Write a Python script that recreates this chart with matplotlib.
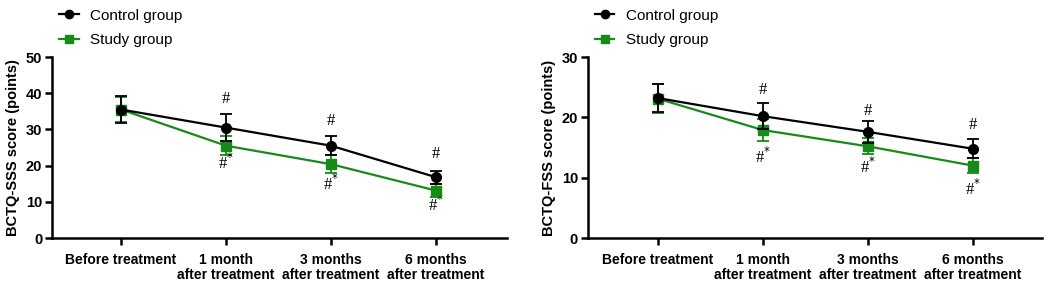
import matplotlib
matplotlib.use("Agg")
import matplotlib.pyplot as plt
from matplotlib.lines import Line2D
import numpy as np

categories = ["Before treatment", "1 month\nafter treatment", "3 months\nafter treatment", "6 months\nafter treatment"]

sss_control = [35.5, 30.5, 25.5, 16.8]
sss_control_err = [3.6, 3.7, 2.7, 1.8]
sss_study = [35.5, 25.5, 20.4, 13.1]
sss_study_err = [3.5, 2.7, 2.5, 1.8]

fss_control = [23.2, 20.2, 17.6, 14.8]
fss_control_err = [2.3, 2.1, 1.8, 1.6]
fss_study = [23.1, 17.9, 15.2, 12.0]
fss_study_err = [2.4, 1.8, 1.3, 1.3]

sss_hash_y = [38.3, 32.3, 23.1]
sss_hashstar_y = [20.6, 14.8, 9.2]
fss_hash_y = [24.5, 21.1, 18.7]
fss_hashstar_y = [13.5, 11.7, 8.1]

GREEN = "#178a17"
plt.rcParams['font.family'] = ['Liberation Sans', 'DejaVu Sans']

fig = plt.figure(figsize=(10.49, 2.81), dpi=100)

def panel(rect, ctrl, ctrl_err, study, study_err, ymax, yticks, ylabel, xlim, hash_y, hs_y):
    ax = fig.add_axes(rect)
    x = np.arange(len(categories))
    ax.errorbar(x, study, yerr=study_err, color=GREEN, marker='s', ms=7, lw=1.6,
                capsize=4, capthick=1.3, elinewidth=1.3, zorder=3)
    ax.errorbar(x, ctrl, yerr=ctrl_err, color='black', marker='o', ms=7, lw=1.6,
                capsize=4, capthick=1.3, elinewidth=1.3, zorder=4)
    ax.set_xlim(*xlim)
    ax.set_ylim(0, ymax)
    ax.set_yticks(yticks)
    ax.set_xticks(x)
    ax.set_xticklabels(categories, fontweight='bold', fontsize=10, linespacing=1.05)
    for lab in ax.get_yticklabels():
        lab.set_fontweight('bold')
        lab.set_fontsize(10.5)
    ax.set_ylabel(ylabel, fontweight='bold', fontsize=10.5, labelpad=4)
    for s in ['top', 'right']:
        ax.spines[s].set_visible(False)
    for s in ['left', 'bottom']:
        ax.spines[s].set_linewidth(1.8)
    ax.tick_params(axis='y', direction='out', width=1.8, length=5, pad=2)
    ax.tick_params(axis='x', direction='out', width=1.8, length=5, pad=6)
    for i, yy in enumerate(hash_y):
        ax.text(x[i + 1], yy, "#", ha='center', va='center', fontsize=12,
                family=['Liberation Serif', 'DejaVu Serif'])
    for i, yy in enumerate(hs_y):
        ax.text(x[i + 1], yy, "#$^{*}$", ha='center', va='center', fontsize=12,
                family=['Liberation Serif', 'DejaVu Serif'])
    handles = [Line2D([], [], color='black', marker='o', ms=6, lw=1.6),
               Line2D([], [], color=GREEN, marker='s', ms=6, lw=1.6)]
    ax.legend(handles, ["Control group", "Study group"], loc='lower left',
              bbox_to_anchor=(0.013, 1.045), frameon=False, fontsize=11,
              handlelength=1.25, handletextpad=0.75, labelspacing=0.7,
              borderaxespad=0.0, borderpad=0.1)
    return ax

panel([0.0496, 0.153, 0.4337, 0.644], sss_control, sss_control_err, sss_study, sss_study_err,
      50, [0, 10, 20, 30, 40, 50], "BCTQ-SSS score (points)", (-0.657, 3.676),
      sss_hash_y, sss_hashstar_y)
panel([0.5603, 0.153, 0.4328, 0.644], fss_control, fss_control_err, fss_study, fss_study_err,
      30, [0, 10, 20, 30], "BCTQ-FSS score (points)", (-0.667, 3.657),
      fss_hash_y, fss_hashstar_y)

fig.savefig("out.png", dpi=100)
